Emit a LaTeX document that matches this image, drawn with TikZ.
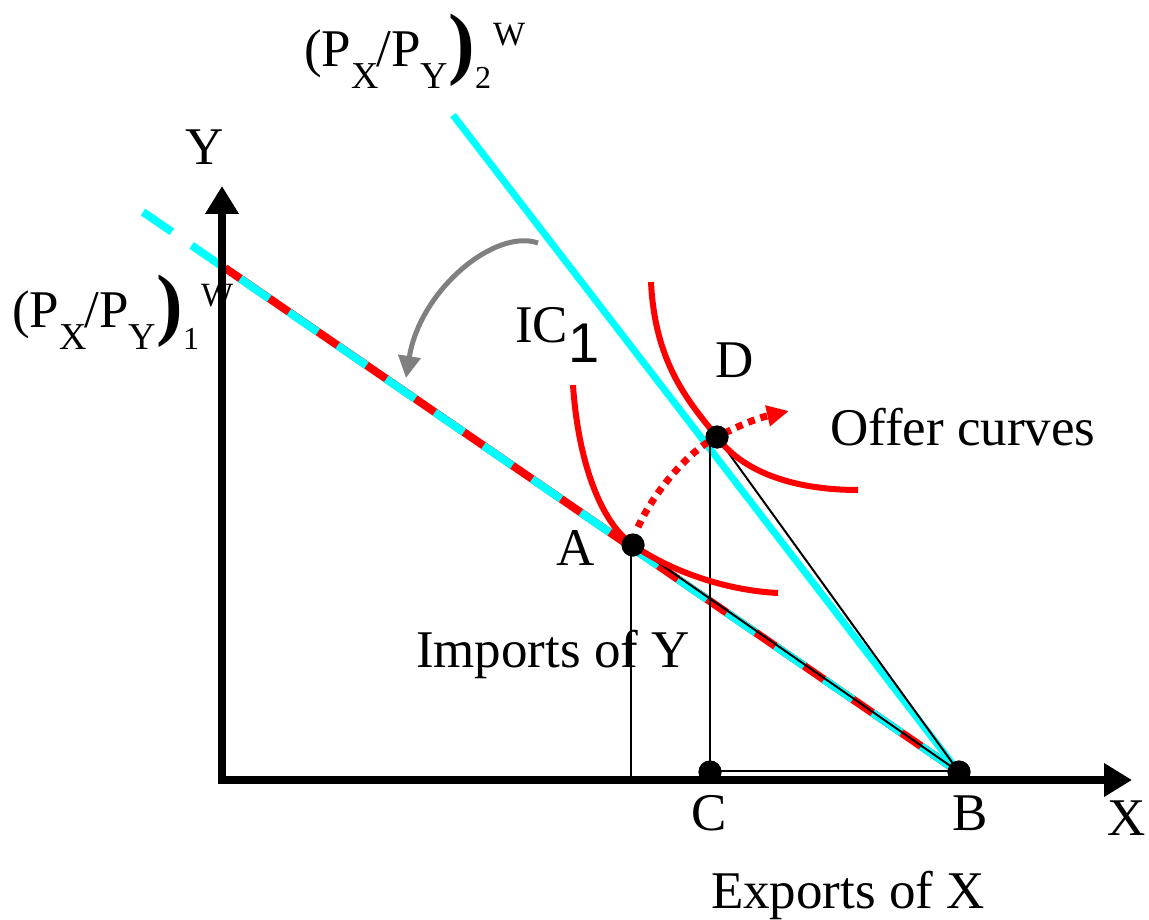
\documentclass[tikz,border=0pt]{standalone}
\usepackage{fontspec}
\setmainfont{Liberation Serif}
\newfontfamily\arialfont{Liberation Sans}
\usetikzlibrary{arrows.meta}
\definecolor{cyanline}{RGB}{0,255,255}
\definecolor{redline}{RGB}{255,0,0}
\definecolor{grayarrow}{RGB}{128,128,128}
\newcommand\bigtxt{\fontsize{53}{60}\selectfont}
\newcommand\subtxt{\fontsize{38}{40}\selectfont}
\newcommand\pxpylabel[1]{{\bigtxt(P\raisebox{-22pt}{\subtxt X}\kern-2pt/P\raisebox{-22pt}{\subtxt Y}\raisebox{-3pt}{\fontsize{80}{80}\selectfont\bfseries )}\raisebox{-22pt}{\fontsize{32}{34}\selectfont #1}\kern2pt\raisebox{21pt}{\fontsize{34}{36}\selectfont W}}}
\tikzset{
  axis/.style={line width=8pt, -{Triangle[length=28pt,width=32pt]}},
  thinline/.style={line width=2pt, black},
  redcurve/.style={line width=6pt, redline},
  dotpt/.style={circle, fill=black, inner sep=0pt, minimum size=23pt},
  lbl/.style={inner sep=0pt, font=\bigtxt},
}
\begin{document}
\begin{tikzpicture}[x=1pt,y=-1pt]
\useasboundingbox (0,0) rectangle (1149,920);
% points
\coordinate (Ytip) at (222,186);
\coordinate (Xtip) at (1132,780);
\coordinate (Ybase) at (222,784);
\coordinate (Xbase) at (218,780);
\coordinate (L1s) at (143,212);
\coordinate (L1a) at (225,268);
\coordinate (L1e) at (963,775);
\coordinate (L2s) at (453,115);
\coordinate (L2e) at (961,775);
\coordinate (ICa) at (573,385);
\coordinate (ICae) at (778,593);
\coordinate (ICd) at (651,282);
\coordinate (ICde) at (858,490);
\coordinate (Gs) at (538,243);
\coordinate (Ge) at (406,378);
\coordinate (Os) at (638,527);
\coordinate (Oe) at (789,411);
% dots
\node[dotpt] (A) at (633,545) {};
\node[dotpt] (D) at (717,437) {};
\node[dotpt] (C) at (710,772) {};
\node[dotpt] (B) at (959,772) {};
\coordinate (Atop) at (631,545);
\coordinate (Abase) at (631,780);
\coordinate (Dtop) at (710,440);
\coordinate (Cl) at (710,771);
\coordinate (Br) at (959,771);
% price line 1 (red with cyan dashes)
\draw[line width=8pt, redline] (L1a) -- (L1e);
\draw[line width=8pt, cyanline, dash pattern=on 35pt off 24pt] (L1s) -- (L1e);
% price line 2
\draw[line width=7pt, cyanline] (L2s) -- (L2e);
% thin lines
\draw[thinline] (A.center) -- (B.center);
\draw[thinline] (D.center) -- (B.center);
\draw[thinline] (Atop) -- (Abase);
\draw[thinline] (Dtop) -- (C.center);
\draw[thinline] (Cl) -- (Br);
% axes
\draw[axis] (Ybase) -- (Ytip);
\draw[axis] (Xbase) -- (Xtip);
% indifference curves
\draw[redcurve] (ICa) .. controls (578,460) and (600,522) .. (A.center)
  .. controls (666,568) and (720,590) .. (ICae);
\draw[redcurve] (ICd) .. controls (655,365) and (690,403) .. (D.center)
  .. controls (745,475) and (800,490) .. (ICde);
% offer curve
\draw[line width=7pt, redline, dash pattern=on 7pt off 6pt, -{Triangle[length=22pt,width=20pt]}]
  (Os) .. controls (655,490) and (690,450) .. (D.center)
  .. controls (740,425) and (758,418) .. (Oe);
% gray arrow
\draw[line width=5pt, grayarrow, -{Triangle[length=22pt,width=22pt]}]
  (Gs) .. controls (495,228) and (420,290) .. (Ge);
% dots on top
\fill (A) circle (11.5pt);
\fill (D) circle (11.5pt);
\fill (C) circle (11.5pt);
\fill (B) circle (11.5pt);
% labels
\node[lbl, anchor=base] (Ylbl) at (205,165) {Y};
\node[lbl, anchor=base] (Xlbl) at (1127,835) {X};
\node[lbl, anchor=base] (Albl) at (576,565) {A};
\node[lbl, anchor=base] (Dlbl) at (735,377) {D};
\node[lbl, anchor=base] (Clbl) at (709,830) {C};
\node[lbl, anchor=base] (Blbl) at (970,830) {B};
\node[lbl, anchor=base west] (offer) at (830,445) {Offer curves};
\node[lbl, anchor=base] (imp) at (553,667) {Imports of Y};
\node[lbl, anchor=base] (exp) at (848,908) {Exports of X};
\node[lbl, anchor=base west] (ic) at (515,342) {IC\raisebox{-20pt}{\arialfont\fontsize{56}{60}\selectfont 1}};
\node[inner sep=0pt, anchor=base west] (p2) at (304,67) {\pxpylabel{2}};
\node[inner sep=0pt, anchor=base west] (p1) at (12,327) {\pxpylabel{1}};
\end{tikzpicture}
\end{document}
